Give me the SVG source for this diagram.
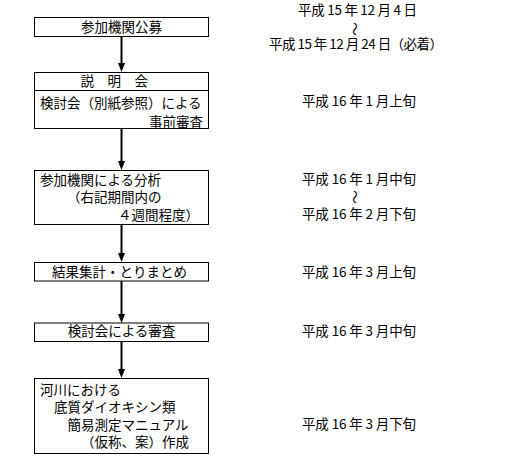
<svg xmlns="http://www.w3.org/2000/svg" width="511" height="470" viewBox="0 0 511 470">
<style>
text{font-family:"Noto Sans CJK JP","Noto Sans CJK SC",sans-serif;font-size:13.5px;fill:#000}
.box{fill:#fff;stroke:#000;stroke-width:1}
.conn{stroke:#000;stroke-width:2;fill:none}
.head{fill:#000}
.mid{text-anchor:middle}
.end{text-anchor:end}
</style>
<rect width="511" height="470" fill="#fff"/>
<g id="connectors">
<line class="conn" x1="121.5" y1="36" x2="121.5" y2="64"/>
<path class="head" d="M118,63 L125,63 L121.5,72 Z"/>
<line class="conn" x1="121.5" y1="129" x2="121.5" y2="162"/>
<path class="head" d="M118,161 L125,161 L121.5,170 Z"/>
<line class="conn" x1="121.5" y1="224.5" x2="121.5" y2="254"/>
<path class="head" d="M118,253 L125,253 L121.5,262 Z"/>
<line class="conn" x1="121.5" y1="281" x2="121.5" y2="315"/>
<path class="head" d="M118,314 L125,314 L121.5,323 Z"/>
<line class="conn" x1="121.5" y1="341" x2="121.5" y2="370"/>
<path class="head" d="M118,369 L125,369 L121.5,378 Z"/>
</g>
<g id="n1">
<rect class="box" x="34.5" y="17.5" width="174" height="19"/>
<text class="mid" x="121.5" y="31.5">参加機関公募</text>
</g>
<g id="n2">
<rect class="box" x="34.5" y="72.5" width="174" height="56"/>
<line x1="34.5" y1="90.5" x2="208.5" y2="90.5" stroke="#000" stroke-width="1"/>
<text x="80.5" y="86">説　明　会</text>
<text x="40" y="107.5">検討会（別紙参照）による</text>
<text class="end" x="203" y="126.5">事前審査</text>
</g>
<g id="n3">
<rect class="box" x="34.5" y="170.5" width="174" height="54"/>
<text x="40" y="184.5">参加機関による分析</text>
<text x="67" y="202">（右記期間内の</text>
<text x="118" y="219.5">４週間程度）</text>
</g>
<g id="n4">
<rect class="box" x="34.5" y="262.5" width="174" height="18.5"/>
<text class="mid" x="119.5" y="276.5">結果集計・とりまとめ</text>
</g>
<g id="n5">
<rect class="box" x="34.5" y="323" width="174" height="18.5"/>
<text class="mid" x="121.5" y="335.5">検討会による審査</text>
</g>
<g id="n6">
<rect class="box" x="34.5" y="378.5" width="174" height="75"/>
<text x="40" y="394.5">河川における</text>
<text x="54" y="412">底質ダイオキシン類</text>
<text x="67.5" y="429.5">簡易測定マニュアル</text>
<text x="81" y="447">（仮称、案）作成</text>
</g>
<g id="dates">
<text x="298" y="14.5" textLength="119" lengthAdjust="spacing">平成 15 年 12 月 4 日</text>
<text transform="translate(356,29) rotate(90)" class="mid" dominant-baseline="central" font-size="12">〜</text>
<text x="269" y="49" textLength="174" lengthAdjust="spacing">平成 15 年 12 月 24 日（必着）</text>
<text x="302" y="106" textLength="114" lengthAdjust="spacing">平成 16 年 1 月上旬</text>
<text x="302" y="184" textLength="114" lengthAdjust="spacing">平成 16 年 1 月中旬</text>
<text transform="translate(356,197) rotate(90)" class="mid" dominant-baseline="central" font-size="12">〜</text>
<text x="302" y="219" textLength="114" lengthAdjust="spacing">平成 16 年 2 月下旬</text>
<text x="302" y="276.5" textLength="114" lengthAdjust="spacing">平成 16 年 3 月上旬</text>
<text x="302" y="335.5" textLength="114" lengthAdjust="spacing">平成 16 年 3 月中旬</text>
<text x="302" y="429" textLength="114" lengthAdjust="spacing">平成 16 年 3 月下旬</text>
</g>
</svg>
